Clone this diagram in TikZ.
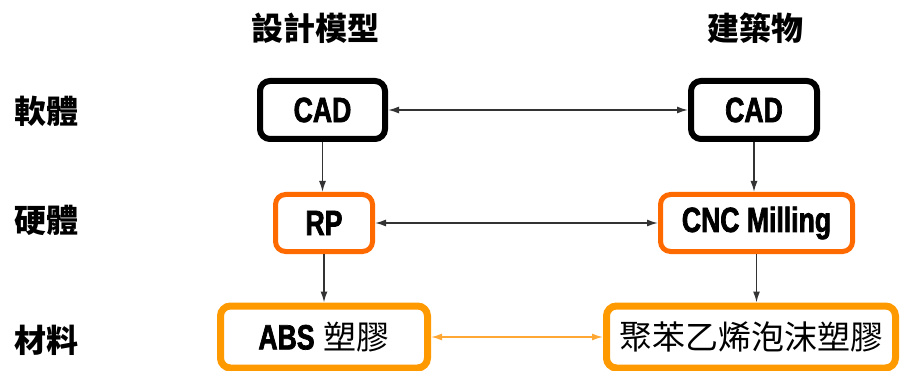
\documentclass[tikz,border=0pt]{standalone}
\usepackage{fontspec}
\usetikzlibrary{arrows.meta}
\newfontfamily\latinb{Liberation Sans}[FakeStretch=0.76,FakeBold=2]
\newfontfamily\cjk{Noto Sans CJK TC}
\definecolor{boxblack}{HTML}{000000}
\definecolor{hwOrange}{HTML}{FF6A00}
\definecolor{matOrange}{HTML}{FF9900}
\definecolor{arrOrange}{HTML}{FFA733}
\definecolor{arrGray}{HTML}{333333}
\begin{document}
\begin{tikzpicture}[x=1pt,y=-1pt,
  lbl/.style={inner sep=0pt,font=\cjk\bfseries\fontsize{32}{36}\selectfont},
  boxbase/.style={rounded corners=10pt,fill=white,inner sep=0pt,align=center},
  swbox/.style={boxbase,draw=boxblack,line width=6pt,minimum width=125pt,minimum height=58pt,
    font=\latinb\bfseries\fontsize{35}{38}\selectfont},
  hwbox/.style={boxbase,draw=hwOrange,line width=5pt,minimum height=57pt,
    font=\latinb\bfseries\fontsize{35}{38}\selectfont},
  matbox/.style={boxbase,draw=matOrange,line width=7pt,minimum height=62pt,
    font=\cjk\fontsize{33}{36}\selectfont},
  garrow/.style={draw=arrGray,line width=1.5pt,-{Latex[length=11pt,width=7pt]}},
  garrow2/.style={draw=arrGray,line width=1.5pt,{Latex[length=11pt,width=7pt]}-{Latex[length=11pt,width=7pt]}},
  oarrow2/.style={draw=arrOrange,line width=1.5pt,{Latex[length=11pt,width=7pt]}-{Latex[length=11pt,width=7pt]}}
]
\useasboundingbox (0,0) rectangle (901,371);
\fill[white] (0,0) rectangle (901,371);

% column titles
\node[lbl] (t1) at (315,28) {設計模型};
\node[lbl] (t2) at (755,28) {建築物};
% row labels
\node[lbl] (r1) at (46,111) {軟體};
\node[lbl] (r2) at (46,220) {硬體};
\node[lbl] (r3) at (46,340) {材料};

% boxes
\node[swbox] (cadL) at (322.5,110) {CAD};
\node[swbox,minimum width=126pt] (cadR) at (754,110) {CAD};
\node[hwbox,minimum width=97pt] (rp) at (324,223) {RP};
\node[hwbox,minimum width=192pt] (cnc) at (756.5,223) {CNC Milling};
\node[matbox,minimum width=207pt] (abs) at (324,337) {{\latinb\bfseries\fontsize{35}{38}\selectfont ABS}\hspace{9pt}塑膠};
\node[matbox,minimum width=289pt] (eps) at (751,337) {聚苯乙烯泡沫塑膠};

% connectors
\draw[garrow2] (cadL.east) -- (cadR.west);
\draw[garrow2] (rp.east) -- (cnc.west);
\draw[oarrow2] (abs.east) -- (eps.west);
\draw[garrow] (cadL.south) -- (cadL.south |- rp.north);
\draw[garrow] (rp.south) -- (rp.south |- abs.north);
\draw[garrow] (cadR.south) -- (cadR.south |- cnc.north);
\draw[garrow] (cnc.south) -- (cnc.south |- eps.north);
\end{tikzpicture}
\end{document}
